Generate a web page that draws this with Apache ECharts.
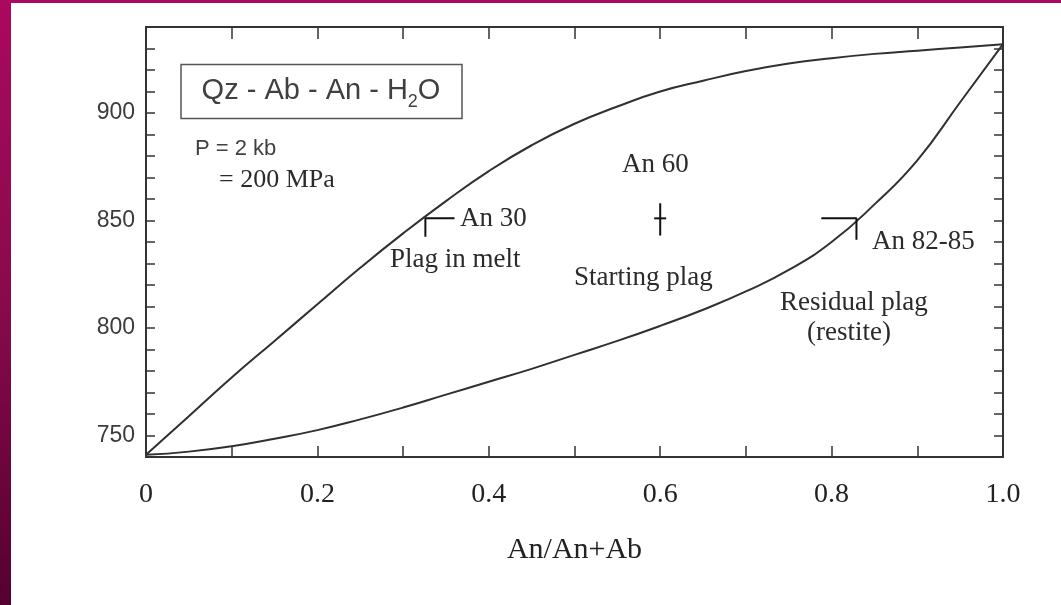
<!DOCTYPE html>
<html>
<head>
<meta charset="utf-8">
<style>
html,body{margin:0;padding:0;background:#ffffff;}
#chart{width:1061px;height:605px;}
</style>
<script src="https://cdn.jsdelivr.net/npm/echarts/dist/echarts.min.js"></script>
</head>
<body>
<div id="chart"></div>
<script>
// ---- data ----
const anRatio    = [0, 0.05, 0.1, 0.15, 0.2, 0.25, 0.3, 0.35, 0.4, 0.45, 0.5, 0.55, 0.6, 0.65, 0.7, 0.75, 0.8, 0.85, 0.9, 0.95, 1.0];
const liquidusT  = [741, 759, 777, 794, 811, 828, 844, 859, 873, 885, 895, 903, 910, 915, 919.5, 923, 925.5, 927.5, 929, 930.5, 932];
const solidusT   = [741, 742.5, 745, 748.5, 752.5, 757.5, 763, 769, 775, 781, 787.5, 794, 801, 808.5, 817, 827, 840, 857.5, 878, 905, 932];

// composition markers at 851 °C
const an30X  = [0.360, 0.326, 0.326];
const an30T  = [851, 851, 842.5];
const an60VX = [0.600, 0.600];
const an60VT = [858, 843];
const an60HX = [0.593, 0.607];
const an60HT = [851, 851];
const an82X  = [0.788, 0.829, 0.829];
const an82T  = [851, 851, 841];

const xTickLabels = ['0', '0.2', '0.4', '0.6', '0.8', '1.0'];
const yTickLabels = [750, 800, 850, 900];
const xAxisTitle = 'An/An+Ab';

const zip = (xs, ys) => xs.map((x, i) => [x, ys[i]]);

const chart = echarts.init(document.getElementById('chart'), null, {renderer: 'canvas'});

const serif = '"Liberation Serif", "Times New Roman", serif';
const sans  = '"Liberation Sans", Arial, Helvetica, sans-serif';
const ink = '#2b2b2b';

function xLabel(v) {
  for (const s of xTickLabels) { if (Math.abs(parseFloat(s) - v) < 1e-6) return s; }
  return '';
}
function yLabel(v) { return yTickLabels.includes(Math.round(v)) ? String(Math.round(v)) : ''; }

const axisLine = {show: true, onZero: false, lineStyle: {color: '#333', width: 2}};
const tick = (len) => ({show: true, inside: true, length: len, lineStyle: {color: '#333', width: 1.5}});

const lineSeries = (data, width, color) => ({
  type: 'line', data: data, showSymbol: false, symbol: 'none',
  lineStyle: {color: color, width: width}, silent: true, animation: false
});

const option = {
  backgroundColor: '#ffffff',
  animation: false,
  grid: {left: 146, top: 27, width: 857, height: 430, containLabel: false},
  xAxis: [
    {
      type: 'value', min: 0, max: 1, interval: 0.1, position: 'bottom',
      axisLine: axisLine, axisTick: tick(11), splitLine: {show: false},
      axisLabel: {formatter: xLabel, fontFamily: serif, fontSize: 28, color: '#222', margin: 24, showMinLabel: true, showMaxLabel: true},
      name: xAxisTitle, nameLocation: 'middle', nameGap: 78,
      nameTextStyle: {fontFamily: serif, fontSize: 30, color: '#222'}
    },
    {
      type: 'value', min: 0, max: 1, interval: 0.1, position: 'top',
      axisLine: axisLine, axisTick: tick(12), splitLine: {show: false}, axisLabel: {show: false}
    }
  ],
  yAxis: [
    {
      type: 'value', min: 740, max: 940, interval: 10, position: 'left',
      axisLine: axisLine, axisTick: tick(9), splitLine: {show: false},
      axisLabel: {formatter: yLabel, fontFamily: sans, fontSize: 23, color: '#3c3c3c', margin: 11, showMinLabel: true, showMaxLabel: true}
    },
    {
      type: 'value', min: 740, max: 940, interval: 10, position: 'right',
      axisLine: axisLine, axisTick: tick(9), splitLine: {show: false}, axisLabel: {show: false}
    }
  ],
  series: [
    Object.assign(lineSeries(zip(anRatio, liquidusT), 2, '#303030'), {smooth: 0.5}),
    Object.assign(lineSeries(zip(anRatio, solidusT), 2, '#303030'), {smooth: 0.5}),
    lineSeries(zip(an30X, an30T), 2, '#111'),
    lineSeries(zip(an60VX, an60VT), 2, '#111'),
    lineSeries(zip(an60HX, an60HT), 2, '#111'),
    lineSeries(zip(an82X, an82T), 2, '#111')
  ],
  graphic: [
    // slide background strips
    {type: 'rect', left: 0, top: 0, shape: {width: 11, height: 605}, silent: true,
     style: {fill: new echarts.graphic.LinearGradient(0, 0, 0, 1, [
       {offset: 0, color: '#ab0860'}, {offset: 0.5, color: '#880a4c'}, {offset: 1, color: '#560030'}])}},
    {type: 'rect', left: 0, top: 0, shape: {width: 1061, height: 3}, silent: true, style: {fill: '#ab0860'}},
    // system box
    {type: 'rect', shape: {x: 181, y: 64.5, width: 281, height: 54}, silent: true,
     style: {fill: 'none', stroke: '#555', lineWidth: 1.5}},
    {type: 'text', x: 321, y: 91, silent: true,
     style: {text: '{n|Qz - Ab - An - H}{s|2}{n|O}', textAlign: 'center', textVerticalAlign: 'middle',
       rich: {n: {fontFamily: sans, fontSize: 29, lineHeight: 40, fill: '#404040'},
              s: {fontFamily: sans, fontSize: 18, verticalAlign: 'bottom', fill: '#404040'}}}},
    {type: 'text', x: 195, y: 149, silent: true,
     style: {text: 'P = 2 kb', font: '22px ' + sans, fill: '#404040', textVerticalAlign: 'middle'}},
    {type: 'text', x: 219, y: 180, silent: true,
     style: {text: '= 200 MPa', font: '26px ' + serif, fill: ink, textVerticalAlign: 'middle'}},
    {type: 'text', x: 622, y: 165, silent: true,
     style: {text: 'An 60', font: '27px ' + serif, fill: ink, textVerticalAlign: 'middle'}},
    {type: 'text', x: 460, y: 219, silent: true,
     style: {text: 'An 30', font: '27px ' + serif, fill: ink, textVerticalAlign: 'middle'}},
    {type: 'text', x: 390, y: 260, silent: true,
     style: {text: 'Plag in melt', font: '27px ' + serif, fill: ink, textVerticalAlign: 'middle'}},
    {type: 'text', x: 574, y: 278, silent: true,
     style: {text: 'Starting plag', font: '27px ' + serif, fill: ink, textVerticalAlign: 'middle'}},
    {type: 'text', x: 872, y: 242, silent: true,
     style: {text: 'An 82-85', font: '27px ' + serif, fill: ink, textVerticalAlign: 'middle'}},
    {type: 'text', x: 780, y: 303, silent: true,
     style: {text: 'Residual plag', font: '27px ' + serif, fill: ink, textVerticalAlign: 'middle'}},
    {type: 'text', x: 807, y: 333, silent: true,
     style: {text: '(restite)', font: '27px ' + serif, fill: ink, textVerticalAlign: 'middle'}}
  ]
};
chart.setOption(option);
</script>
</body>
</html>
